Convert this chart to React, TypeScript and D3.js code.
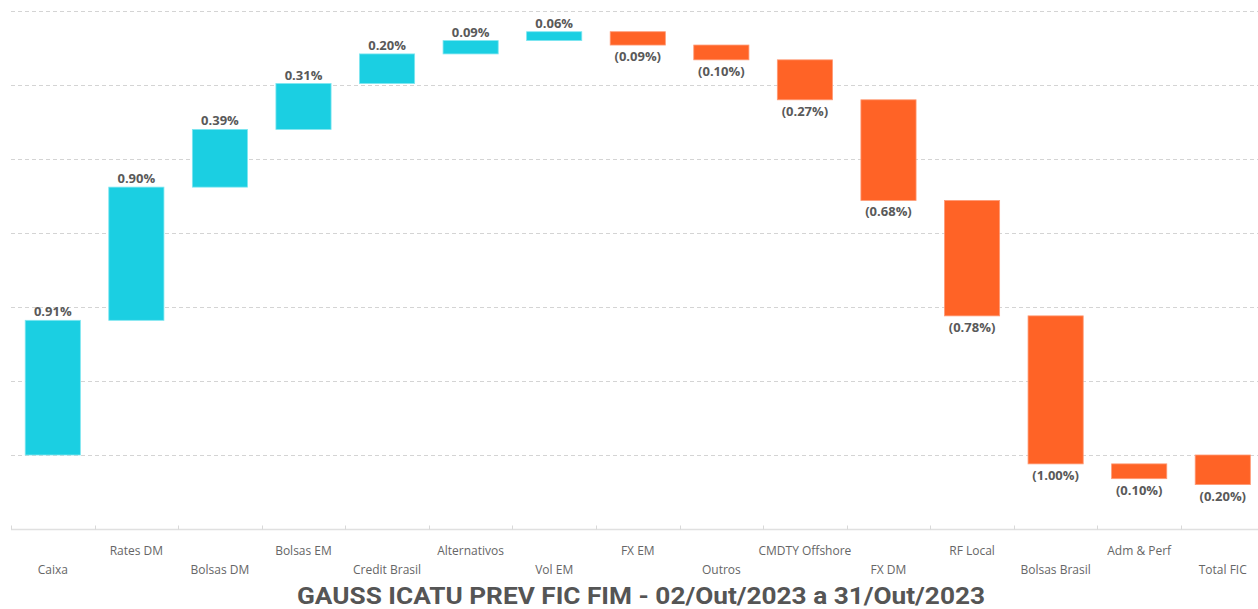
import React, { useRef, useEffect } from 'react';
import * as d3 from 'd3';

const categories = [
  'Caixa', 'Rates DM', 'Bolsas DM', 'Bolsas EM', 'Credit Brasil', 'Alternativos', 'Vol EM',
  'FX EM', 'Outros', 'CMDTY Offshore', 'FX DM', 'RF Local', 'Bolsas Brasil', 'Adm & Perf',
];
const contributions = [0.91, 0.9, 0.39, 0.31, 0.2, 0.09, 0.06, -0.09, -0.1, -0.27, -0.68, -0.78, -1.0, -0.1];
const totalLabel = 'Total FIC';
const totalValue = -0.2;
const gridTicks = [0, 0.5, 1, 1.5, 2, 2.5, 3];
const title = 'GAUSS ICATU PREV FIC FIM - 02/Out/2023 a 31/Out/2023';

const WIDTH = 1258;
const HEIGHT = 609;
const POS = '#1BCFE2';
const NEG = '#FF6326';

const fmt = (v: number) => (v < 0 ? `(${Math.abs(v).toFixed(2)}%)` : `${v.toFixed(2)}%`);

const Waterfall = () => {
  const ref = useRef<SVGSVGElement>(null);

  useEffect(() => {
    const svg = d3.select(ref.current);
    svg.selectAll('*').remove();

    // build waterfall steps from the contributions
    let run = 0;
    const steps = contributions.map((v, i) => {
      const start = run;
      run += v;
      return { name: categories[i], value: v, start, end: run };
    });
    steps.push({ name: totalLabel, value: totalValue, start: 0, end: totalValue });

    const x = d3.scaleBand()
      .domain(steps.map(d => d.name))
      .range([11, 11 + 83.57 * steps.length])
      .paddingInner(0.34)
      .paddingOuter(0.17);

    const y = d3.scaleLinear().domain([-0.5, 3]).range([529, 11]);

    // dashed gridlines
    svg.append('g')
      .selectAll('line')
      .data(gridTicks)
      .join('line')
      .attr('x1', 11)
      .attr('x2', WIDTH)
      .attr('y1', d => Math.round(y(d)) + 0.5)
      .attr('y2', d => Math.round(y(d)) + 0.5)
      .attr('stroke', '#d4d4d4')
      .attr('stroke-dasharray', '4,3');

    // x axis baseline and ticks
    const base = Math.round(y(-0.5)) + 0.5;
    svg.append('line')
      .attr('x1', 11).attr('x2', WIDTH)
      .attr('y1', base).attr('y2', base)
      .attr('stroke', '#e0e0e0').attr('stroke-width', 1.5);

    const step = x.step();
    svg.append('g')
      .selectAll('line')
      .data(steps)
      .join('line')
      .attr('x1', (_, i) => Math.round(11 + i * step) + 0.5)
      .attr('x2', (_, i) => Math.round(11 + i * step) + 0.5)
      .attr('y1', base - 4)
      .attr('y2', base)
      .attr('stroke', '#d9d9d9');

    // bars
    svg.append('g')
      .selectAll('rect')
      .data(steps)
      .join('rect')
      .attr('x', d => x(d.name)!)
      .attr('width', x.bandwidth())
      .attr('y', d => y(Math.max(d.start, d.end)))
      .attr('height', d => Math.abs(y(d.start) - y(d.end)))
      .attr('fill', d => (d.value >= 0 ? POS : NEG))
      .attr('stroke', d => (d.value >= 0 ? '#7fe6f0' : '#ff9a75'))
      .attr('stroke-width', 0.8);

    // value labels
    svg.append('g')
      .selectAll('text')
      .data(steps)
      .join('text')
      .attr('x', d => x(d.name)! + x.bandwidth() / 2)
      .attr('y', d => (d.value >= 0 ? y(Math.max(d.start, d.end)) - 4 : y(Math.min(d.start, d.end)) + 16))
      .attr('text-anchor', 'middle')
      .attr('font-family', '"Open Sans", sans-serif')
      .attr('font-weight', 700)
      .attr('font-size', '13px')
      .attr('fill', '#595959')
      .text(d => fmt(d.value));

    // category labels, staggered in two rows
    svg.append('g')
      .selectAll('text')
      .data(steps)
      .join('text')
      .attr('x', d => x(d.name)! + x.bandwidth() / 2)
      .attr('y', (_, i) => (i % 2 === 0 ? 574 : 555))
      .attr('text-anchor', 'middle')
      .attr('font-family', '"Open Sans", sans-serif')
      .attr('font-size', '12px')
      .attr('fill', '#666')
      .text(d => d.name);

    // title
    svg.append('text')
      .attr('x', 641)
      .attr('y', 604)
      .attr('text-anchor', 'middle')
      .attr('font-family', 'Roboto, sans-serif')
      .attr('font-weight', 700)
      .attr('font-size', '23px')
      .attr('fill', '#555')
      .attr('textLength', 688)
      .attr('lengthAdjust', 'spacingAndGlyphs')
      .text(title);
  }, []);

  return <svg ref={ref} width={WIDTH} height={HEIGHT} style={{ display: 'block' }}></svg>;
};

export default function App() {
  return (
    <div style={{ position: 'absolute', left: 0, top: 0, width: WIDTH, height: HEIGHT, background: '#fff' }}>
      <Waterfall />
    </div>
  );
}
